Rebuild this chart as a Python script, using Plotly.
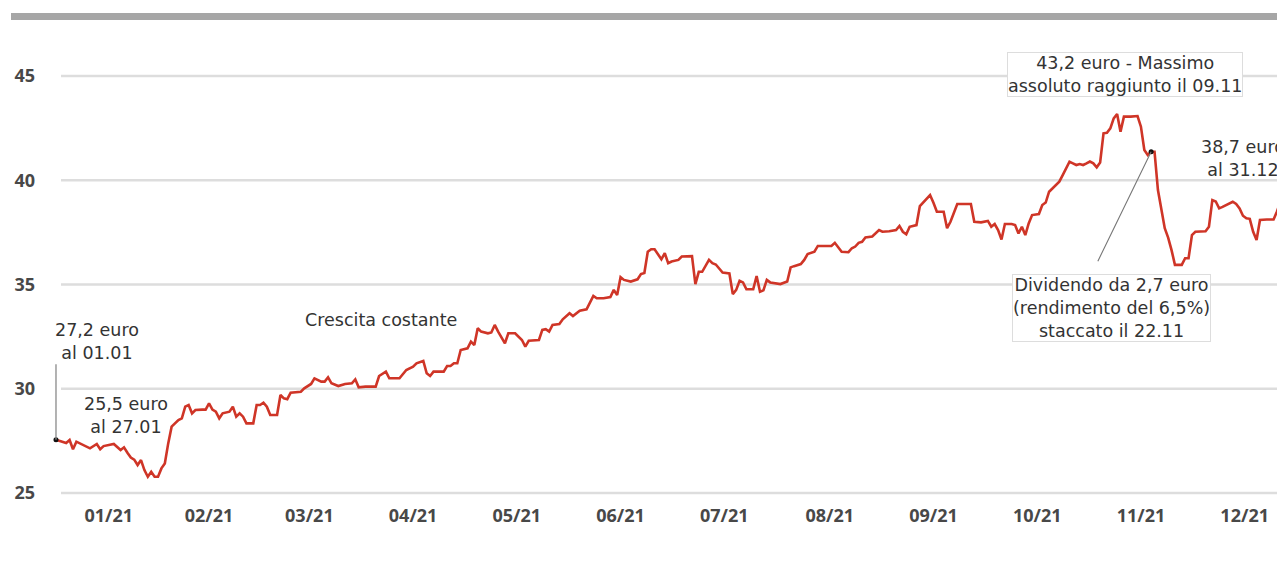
import pandas as pd
import plotly.graph_objects as go

# ---- data ----
dates = [
    "2021-01-01", "2021-01-04", "2021-01-05", "2021-01-06", "2021-01-07", "2021-01-09", "2021-01-11",
    "2021-01-13", "2021-01-14", "2021-01-15", "2021-01-18", "2021-01-20", "2021-01-21", "2021-01-22",
    "2021-01-23", "2021-01-24", "2021-01-25", "2021-01-26", "2021-01-27", "2021-01-28", "2021-01-29",
    "2021-01-30", "2021-01-31", "2021-02-01", "2021-02-02", "2021-02-03", "2021-02-04", "2021-02-06",
    "2021-02-07", "2021-02-08", "2021-02-09", "2021-02-10", "2021-02-11", "2021-02-13", "2021-02-14",
    "2021-02-15", "2021-02-16", "2021-02-17", "2021-02-18", "2021-02-19", "2021-02-21", "2021-02-22",
    "2021-02-23", "2021-02-24", "2021-02-25", "2021-02-26", "2021-02-28", "2021-03-01", "2021-03-02",
    "2021-03-03", "2021-03-04", "2021-03-05", "2021-03-07", "2021-03-08", "2021-03-09", "2021-03-10",
    "2021-03-11", "2021-03-14", "2021-03-15", "2021-03-17",
    "2021-03-18", "2021-03-20", "2021-03-21", "2021-03-22", "2021-03-23", "2021-03-25", "2021-03-27",
    "2021-03-29", "2021-03-30", "2021-03-31", "2021-04-02", "2021-04-05", "2021-04-06", "2021-04-08",
    "2021-04-09", "2021-04-12", "2021-04-14", "2021-04-16", "2021-04-17", "2021-04-19", "2021-04-20",
    "2021-04-21", "2021-04-22", "2021-04-25", "2021-04-26", "2021-04-27", "2021-04-28", "2021-04-29",
    "2021-04-30", "2021-05-02", "2021-05-03", "2021-05-04", "2021-05-05", "2021-05-06", "2021-05-08",
    "2021-05-09", "2021-05-10", "2021-05-11", "2021-05-13", "2021-05-14", "2021-05-16", "2021-05-18",
    "2021-05-19", "2021-05-20", "2021-05-23", "2021-05-24", "2021-05-25", "2021-05-26", "2021-05-27",
    "2021-05-29",
    "2021-05-30", "2021-06-01", "2021-06-02", "2021-06-04", "2021-06-06", "2021-06-08", "2021-06-09",
    "2021-06-11", "2021-06-13", "2021-06-14", "2021-06-15", "2021-06-16", "2021-06-17", "2021-06-19",
    "2021-06-21", "2021-06-22", "2021-06-23", "2021-06-24", "2021-06-25", "2021-06-26", "2021-06-27",
    "2021-06-28", "2021-06-29", "2021-06-30", "2021-07-01", "2021-07-03", "2021-07-04", "2021-07-07",
    "2021-07-08", "2021-07-09", "2021-07-10", "2021-07-12", "2021-07-13", "2021-07-14", "2021-07-16",
    "2021-07-18", "2021-07-19", "2021-07-20", "2021-07-21", "2021-07-22", "2021-07-23", "2021-07-25",
    "2021-07-26", "2021-07-27", "2021-07-28", "2021-07-29", "2021-07-30", "2021-08-02", "2021-08-04",
    "2021-08-05", "2021-08-06", "2021-08-08", "2021-08-09", "2021-08-10",
    "2021-08-12", "2021-08-13", "2021-08-15", "2021-08-17", "2021-08-18", "2021-08-20", "2021-08-22",
    "2021-08-23", "2021-08-24", "2021-08-25", "2021-08-26", "2021-08-27", "2021-08-29", "2021-08-31",
    "2021-09-01", "2021-09-03", "2021-09-05", "2021-09-06", "2021-09-07", "2021-09-08", "2021-09-09",
    "2021-09-11", "2021-09-12", "2021-09-14", "2021-09-15", "2021-09-16", "2021-09-17", "2021-09-19",
    "2021-09-20", "2021-09-21", "2021-09-23", "2021-09-25", "2021-09-27", "2021-09-28", "2021-09-30",
    "2021-10-02", "2021-10-03", "2021-10-04", "2021-10-05", "2021-10-06", "2021-10-07", "2021-10-09",
    "2021-10-10", "2021-10-11", "2021-10-12", "2021-10-13", "2021-10-14", "2021-10-15", "2021-10-17",
    "2021-10-18", "2021-10-19", "2021-10-20", "2021-10-22", "2021-10-23",
    "2021-10-24", "2021-10-25", "2021-10-26", "2021-10-27", "2021-10-28", "2021-10-29", "2021-10-30",
    "2021-10-31", "2021-11-01", "2021-11-02", "2021-11-03", "2021-11-04", "2021-11-05", "2021-11-06",
    "2021-11-07", "2021-11-08", "2021-11-09", "2021-11-10", "2021-11-11", "2021-11-13", "2021-11-15",
    "2021-11-16", "2021-11-17", "2021-11-18", "2021-11-19", "2021-11-20", "2021-11-21", "2021-11-23",
    "2021-11-24", "2021-11-25", "2021-11-26", "2021-11-28", "2021-11-29", "2021-11-30", "2021-12-01",
    "2021-12-02", "2021-12-05", "2021-12-06", "2021-12-07", "2021-12-08", "2021-12-09", "2021-12-10",
    "2021-12-11", "2021-12-13", "2021-12-14", "2021-12-15", "2021-12-16", "2021-12-17", "2021-12-18",
    "2021-12-19", "2021-12-20", "2021-12-21", "2021-12-23", "2021-12-25", "2021-12-26", "2021-12-27",
    "2021-12-28", "2021-12-31",
]
prices = [
    27.55, 27.40, 27.54, 27.10, 27.46, 27.30, 27.14,
    27.35, 27.10, 27.25, 27.35, 27.06, 27.19, 26.93,
    26.70, 26.60, 26.34, 26.58, 26.10, 25.78, 26.02,
    25.78, 25.78, 26.18, 26.42, 27.38, 28.18, 28.50,
    28.58, 29.14, 29.22, 28.82, 28.98, 29.00, 29.00,
    29.30, 29.00, 28.90, 28.58, 28.82, 28.90, 29.14,
    28.66, 28.82, 28.66, 28.34, 28.34, 29.22, 29.22,
    29.33, 29.14, 28.74, 28.74, 29.70, 29.54, 29.50,
    29.81, 29.86, 30.02, 30.23,
    30.50, 30.34, 30.34, 30.55, 30.26, 30.13, 30.23,
    30.26, 30.45, 30.07, 30.10, 30.10, 30.61, 30.82,
    30.50, 30.50, 30.90, 31.06, 31.22, 31.33, 30.74,
    30.61, 30.82, 30.82, 31.09, 31.09, 31.22, 31.22,
    31.86, 31.94, 32.26, 32.10, 32.90, 32.74, 32.66,
    32.70, 33.06, 32.74, 32.18, 32.66, 32.66, 32.34,
    32.02, 32.30, 32.34, 32.82, 32.86, 32.74, 33.06,
    33.10,
    33.33, 33.62, 33.49, 33.74, 33.81, 34.45, 34.34,
    34.34, 34.40, 34.74, 34.50, 35.35, 35.22, 35.14,
    35.25, 35.50, 35.55, 36.57, 36.69, 36.69, 36.42,
    36.21, 36.50, 36.02, 36.10, 36.18, 36.34, 36.36,
    35.02, 35.61, 35.61, 36.18, 36.02, 35.96, 35.57,
    35.53, 34.54, 34.74, 35.18, 35.10, 34.77, 34.77,
    35.41, 34.65, 34.72, 35.22, 35.10, 35.02, 35.14,
    35.82, 35.88, 35.98, 36.18, 36.46,
    36.57, 36.85, 36.85, 36.85, 37.00, 36.57, 36.55,
    36.74, 36.82, 37.00, 37.05, 37.26, 37.30, 37.61,
    37.53, 37.55, 37.61, 37.81, 37.53, 37.41, 37.77,
    37.85, 38.76, 39.13, 39.29, 38.92, 38.49, 38.49,
    37.70, 38.01, 38.86, 38.86, 38.86, 38.01, 37.98,
    38.05, 37.77, 37.90, 37.61, 37.16, 37.90, 37.90,
    37.85, 37.45, 37.77, 37.37, 37.93, 38.33, 38.38,
    38.81, 38.93, 39.45, 39.77, 39.93,
    40.25, 40.60, 40.89, 40.81, 40.73, 40.78, 40.73,
    40.81, 40.90, 40.81, 40.62, 40.85, 42.25, 42.28,
    42.49, 42.97, 43.18, 42.33, 43.05, 43.05, 43.08,
    42.57, 41.45, 41.21, 41.37, 41.37, 39.53, 37.70,
    37.25, 36.65, 35.94, 35.94, 36.26, 36.26, 37.37,
    37.53, 37.55, 37.77, 39.05, 38.98, 38.65, 38.72,
    38.81, 38.97, 38.86, 38.65, 38.30, 38.18, 38.15,
    37.53, 37.13, 38.09, 38.12, 38.12, 38.50, 38.97,
    39.13, 38.70,
]
month_labels = ["01/21", "02/21", "03/21", "04/21", "05/21", "06/21",
                "07/21", "08/21", "09/21", "10/21", "11/21", "12/21"]
y_ticks = [25, 30, 35, 40, 45]
dividend_date = "2021-11-19"

# ---- layout geometry ----
OFF = 8                       # page offset of the figure (body margin)
W, H = 1285 - OFF, 577 - OFF
L, R, T, B = 50 - OFF, W, 45 - OFF, 500 - OFF   # plot area in figure pixels
x_range = [pd.Timestamp("2021-01-01") - pd.Timedelta(days=1.76),
           pd.Timestamp("2021-01-01") + pd.Timedelta(days=361.36)]
y_range = [24.664, 46.487]


def px(xs):
    """screen pixel x -> paper x"""
    return (xs - OFF - L) / (R - L)


def py(ys):
    """screen pixel y -> paper y"""
    return (B - (ys - OFF)) / (B - T)


month_starts = pd.date_range("2021-01-01", periods=13, freq="MS")
tick_pos = [month_starts[i] + (month_starts[i + 1] - month_starts[i]) / 2 for i in range(12)]

RED = "#cf3527"
TXT = "#333333"
FONT = "Open Sans, Arial, sans-serif"
AFONT = dict(size=17.5, color=TXT, family="DejaVu Sans, Open Sans, sans-serif")


def note(xs, ys, text, box=False):
    d = dict(x=px(xs), y=py(ys), xref="paper", yref="paper", text=text, showarrow=False,
             xanchor="center", yanchor="middle", align="center", font=AFONT)
    if box:
        d.update(bgcolor="white", bordercolor="#dddddd", borderwidth=1, borderpad=0)
    return d


fig = go.Figure()
fig.add_trace(go.Scatter(
    x=pd.to_datetime(dates), y=prices, mode="lines",
    line=dict(color=RED, width=2.6), hoverinfo="skip", showlegend=False,
))
i_div = dates.index(dividend_date)
fig.add_trace(go.Scatter(
    x=[pd.Timestamp(dates[0]), pd.Timestamp(dates[i_div])], y=[prices[0], prices[i_div]],
    mode="markers", marker=dict(color="#111111", size=5), hoverinfo="skip", showlegend=False,
))

shapes = []
# top grey band
shapes.append(dict(type="rect", xref="paper", yref="paper", x0=px(11), x1=px(1290),
                   y0=py(20), y1=py(13), fillcolor="#a6a6a6", line=dict(width=0), layer="above"))
# horizontal grid lines
for v in y_ticks:
    shapes.append(dict(type="line", xref="paper", yref="y", x0=px(61), x1=1.01, y0=v, y1=v,
                       line=dict(color="#dddddd", width=2.5), layer="below"))

annotations = [
    dict(x=pd.Timestamp(dates[0]), y=prices[0], xref="x", yref="y", text="", showarrow=True,
         ax=0, ay=-77, arrowhead=0, arrowwidth=1.3, arrowcolor="#8a8a8a", standoff=0),
    dict(x=pd.Timestamp(dates[i_div]), y=prices[i_div], xref="x", yref="y", text="", showarrow=True,
         ax=-54, ay=111, arrowhead=0, arrowwidth=1.1, arrowcolor="#777777", standoff=0),
    note(97, 341, "27,2 euro<br>al 01.01"),
    note(126, 415, "25,5 euro<br>al 27.01"),
    note(381, 320, "Crescita costante"),
    note(1125, 74, "43,2 euro - Massimo<br>assoluto raggiunto il 09.11", box=True),
    note(1111, 308, "Dividendo da 2,7 euro<br>(rendimento del 6,5%)<br>staccato il 22.11", box=True),
    note(1243, 158, "38,7 euro<br>al 31.12"),
]

fig.update_layout(
    width=W, height=H,
    margin=dict(l=L, r=W - R, t=T, b=H - B),
    paper_bgcolor="white", plot_bgcolor="white",
    shapes=shapes, annotations=annotations,
    xaxis=dict(range=x_range, tickvals=tick_pos, ticktext=month_labels, showgrid=False,
               zeroline=False, showline=False, ticks="", ticklabelstandoff=3,
               tickfont=dict(size=18, color="#484848", family=FONT, weight="bold")),
    yaxis=dict(range=y_range, tickvals=y_ticks, showgrid=False, zeroline=False,
               showline=False, ticks="", ticklabelstandoff=14,
               tickfont=dict(size=18, color="#484848", family=FONT, weight="bold")),
)

fig.write_html("out.html")
